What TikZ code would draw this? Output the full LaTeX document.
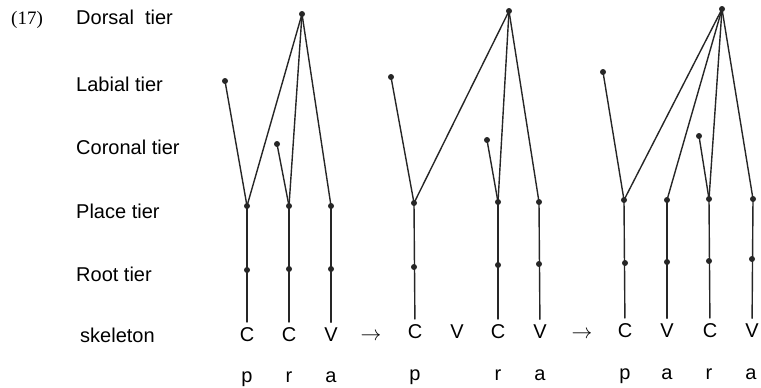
\documentclass[tikz,border=0pt]{standalone}
\usepackage{fontspec}
\newfontfamily\tierfont{Liberation Sans}
\newfontfamily\numfont{Liberation Serif}
\begin{document}
\begin{tikzpicture}[x=1pt,y=-1pt,line cap=round,line join=round,
  tie/.style={line width=1.4pt,draw=black!85},
  tierlabel/.style={anchor=base west,inner sep=0pt,font=\tierfont\fontsize{20}{23}\selectfont},
  seg/.style={anchor=base,inner sep=0pt,outer sep=5pt,font=\tierfont\fontsize{20}{23}\selectfont}]
\useasboundingbox (0,0) rectangle (761,388);
% tier names
\node[anchor=base west,inner sep=0pt,font=\numfont\fontsize{19}{21}\selectfont] (num) at (11,24) {(17)};
\node[tierlabel] (lDorsal) at (76,24) {Dorsal\ \ tier};
\node[tierlabel] (lLabial) at (76,91) {Labial tier};
\node[tierlabel] (lCoronal) at (76,154) {Coronal tier};
\node[tierlabel] (lPlace) at (76,218) {Place tier};
\node[tierlabel] (lRoot) at (76,281) {Root tier};
\node[tierlabel] (lSkel) at (80,342) {skeleton};
% first form: p r a
\coordinate (dA) at (302,14);
\coordinate (lbA) at (225,81);
\coordinate (coA) at (277,144);
\coordinate (pA1) at (247,206);
\coordinate (pA2) at (289,206);
\coordinate (pA3) at (331,206);
\coordinate (rA1) at (247,270);
\coordinate (rA2) at (289,269);
\coordinate (rA3) at (331,269);
\node[seg] (sA1) at (247,341) {C};
\node[seg] (sA2) at (289,341) {C};
\node[seg] (sA3) at (331,341) {V};
\node[seg] (mA1) at (247,382) {p};
\node[seg] (mA2) at (289,382) {r};
\node[seg] (mA3) at (331,382) {a};
\draw[tie] (lbA) -- (pA1);
\draw[tie] (dA) -- (pA1);
\draw[tie] (coA) -- (pA2);
\draw[tie] (dA) -- (pA2);
\draw[tie] (dA) -- (pA3);
\draw[tie] (pA1) -- (sA1);
\draw[tie] (pA2) -- (sA2);
\draw[tie] (pA3) -- (sA3);
\foreach \c in {dA,lbA,coA,pA1,pA2,pA3,rA1,rA2,rA3}
  \fill[black!85] (\c) circle (3pt);
\node[seg] (arrA) at (371,340) {$\rightarrow$};
% second form: p V r a
\coordinate (dB) at (509,11);
\coordinate (lbB) at (391,77);
\coordinate (coB) at (487,140);
\coordinate (pB1) at (414,203);
\coordinate (pB3) at (498,202);
\coordinate (pB4) at (539,202);
\coordinate (rB1) at (414,267);
\coordinate (rB3) at (498,265);
\coordinate (rB4) at (539,264);
\node[seg] (sB1) at (415,338) {C};
\node[seg] (sB2) at (457,338) {V};
\node[seg] (sB3) at (498,338) {C};
\node[seg] (sB4) at (540,338) {V};
\node[seg] (mB1) at (415,380) {p};
\node[seg] (mB3) at (498,380) {r};
\node[seg] (mB4) at (540,380) {a};
\draw[tie] (lbB) -- (pB1);
\draw[tie] (dB) -- (pB1);
\draw[tie] (coB) -- (pB3);
\draw[tie] (dB) -- (pB3);
\draw[tie] (dB) -- (pB4);
\draw[tie] (pB1) -- (sB1);
\draw[tie] (pB3) -- (sB3);
\draw[tie] (pB4) -- (sB4);
\foreach \c in {dB,lbB,coB,pB1,pB3,pB4,rB1,rB3,rB4}
  \fill[black!85] (\c) circle (3pt);
\node[seg] (arrB) at (582,338) {$\rightarrow$};
% third form: p a r a
\coordinate (dC) at (722,9);
\coordinate (lbC) at (603,72);
\coordinate (coC) at (699,136);
\coordinate (pC1) at (624,200);
\coordinate (pC2) at (667,200);
\coordinate (pC3) at (709,199);
\coordinate (pC4) at (753,199);
\coordinate (rC1) at (625,263);
\coordinate (rC2) at (667,262);
\coordinate (rC3) at (709,261);
\coordinate (rC4) at (752,259);
\node[seg] (sC1) at (625,337) {C};
\node[seg] (sC2) at (667,337) {V};
\node[seg] (sC3) at (710,337) {C};
\node[seg] (sC4) at (752,337) {V};
\node[seg] (mC1) at (625,379) {p};
\node[seg] (mC2) at (667,379) {a};
\node[seg] (mC3) at (709,379) {r};
\node[seg] (mC4) at (751,379) {a};
\draw[tie] (lbC) -- (pC1);
\draw[tie] (dC) -- (pC1);
\draw[tie] (dC) -- (pC2);
\draw[tie] (coC) -- (pC3);
\draw[tie] (dC) -- (pC3);
\draw[tie] (dC) -- (pC4);
\draw[tie] (pC1) -- (sC1);
\draw[tie] (pC2) -- (sC2);
\draw[tie] (pC3) -- (sC3);
\draw[tie] (pC4) -- (sC4);
\foreach \c in {dC,lbC,coC,pC1,pC2,pC3,pC4,rC1,rC2,rC3,rC4}
  \fill[black!85] (\c) circle (3pt);
\end{tikzpicture}
\end{document}
